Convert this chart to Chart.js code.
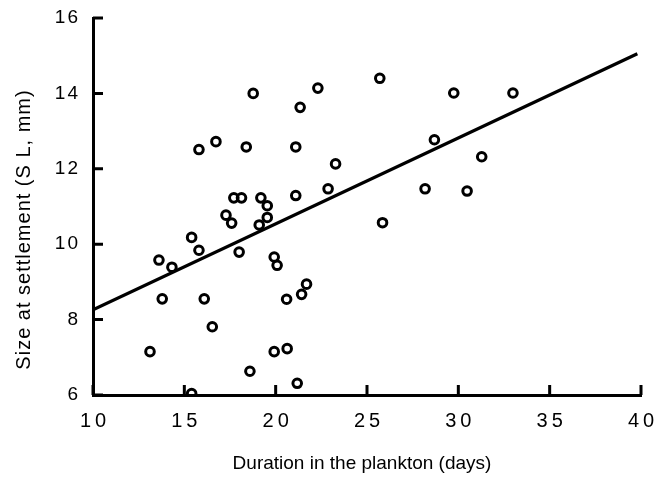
<!DOCTYPE html>
<html>
<head>
<meta charset="utf-8">
<script src="https://cdn.jsdelivr.net/npm/chart.js@4.4.0/dist/chart.umd.min.js"></script>
<style>
  html, body { margin: 0; padding: 0; background: #fff; }
  #wrap { width: 655px; height: 478px; }
</style>
</head>
<body>
<div id="wrap"><canvas id="settleChart"></canvas></div>
<script>
// Each fish: days spent in the plankton and size at settlement (SL, mm)
var duration = [18.77, 22.31, 21.34, 15.80, 16.73, 18.39, 21.10, 23.28, 22.87,
                17.71, 18.13, 19.19, 21.10, 19.54, 17.28, 17.59, 19.54, 19.10,
                15.40, 15.80, 18.00, 13.61, 14.32, 19.92, 20.08, 13.79, 16.09,
                20.60, 21.42, 21.69, 16.53, 13.12, 19.92, 20.63, 18.59, 21.18,
                15.40, 25.70, 29.75, 32.99, 28.69, 31.28, 28.18, 30.48, 25.85];
var sizeSL   = [14.00, 14.14, 13.63, 12.51, 12.72, 12.58, 12.58, 12.13, 11.47,
                11.23, 11.23, 11.23, 11.29, 11.02, 10.77, 10.56, 10.71, 10.51,
                10.18,  9.84,  9.79,  9.58,  9.39,  9.66,  9.44,  8.55,  8.55,
                 8.54,  8.67,  8.94,  7.81,  7.15,  7.15,  7.23,  6.63,  6.31,
                 6.04, 14.40, 14.01, 14.01, 12.77, 12.32, 11.47, 11.41, 10.57];

// Regression line, two end points
var fitDuration = [10, 39.8];
var fitSize = [8.26, 15.05];

// Axis ticks
var xTicks = [10, 15, 20, 25, 30, 35, 40];
var yTicks = [6, 8, 10, 12, 14, 16];

var fontName = "'Liberation Sans', Arial, Helvetica, sans-serif";

function toPoints(xs, ys) {
    var pts = [];
    for (var i = 0; i < xs.length; i++) {
        pts.push({ x: xs[i], y: ys[i] });
    }
    return pts;
}

// run one of the scale's draw steps with some extra canvas settings
function wrapDraw(scale, method, spacing, dx, dy) {
    var base = scale[method];
    scale[method] = function (area) {
        var ctx = this.ctx;
        ctx.save();
        ctx.letterSpacing = spacing;
        ctx.translate(dx, dy);
        base.call(this, area);
        ctx.restore();
    };
}

var figureLook = {
    id: 'figureLook',
    afterLayout: function (chart) {
        var xs = chart.scales.x;
        var ys = chart.scales.y;
        if (!xs.wrapped) {
            wrapDraw(xs, 'drawLabels', '4px', 2, 0);
            wrapDraw(xs, 'drawTitle', '0px', -5, 0);
            wrapDraw(ys, 'drawLabels', '2px', 2, 0);
            wrapDraw(ys, 'drawTitle', '1px', 0, 23);
            xs.wrapped = true;
        }
    },
    // short tick marks drawn inside the plot, like the printed figure
    afterDraw: function (chart) {
        var ctx = chart.ctx;
        var xs = chart.scales.x;
        var ys = chart.scales.y;
        var len = 10;
        ctx.save();
        ctx.strokeStyle = '#000';
        ctx.lineWidth = 3;
        ctx.beginPath();
        xTicks.forEach(function (v) {
            var px = xs.getPixelForValue(v);
            ctx.moveTo(px, ys.bottom);
            ctx.lineTo(px, ys.bottom - len);
        });
        yTicks.forEach(function (v) {
            var py = ys.getPixelForValue(v);
            ctx.moveTo(xs.left, py);
            ctx.lineTo(xs.left + len, py);
        });
        ctx.stroke();
        ctx.restore();
    }
};

new Chart("settleChart", {
    type: "scatter",
    data: {
        datasets: [{
            label: "Fish",
            data: toPoints(duration, sizeSL),
            pointRadius: 4.3,
            pointHoverRadius: 4.3,
            pointBorderWidth: 3,
            pointBorderColor: "#000",
            pointBackgroundColor: "rgba(255,255,255,0)",
            showLine: false
        }, {
            label: "Fit",
            data: toPoints(fitDuration, fitSize),
            showLine: true,
            borderColor: "#000",
            borderWidth: 3.2,
            pointRadius: 0,
            fill: false
        }]
    },
    options: {
        responsive: true,
        maintainAspectRatio: false,
        animation: false,
        events: [],
        layout: {
            padding: { top: 18, right: 14, left: 0, bottom: 0 }
        },
        plugins: {
            legend: { display: false },
            tooltip: { enabled: false }
        },
        scales: {
            x: {
                type: "linear",
                min: 10,
                max: 40,
                afterBuildTicks: function (scale) {
                    scale.ticks = xTicks.map(function (v) { return { value: v }; });
                },
                afterFit: function (scale) {
                    scale.height = 83;
                    scale.paddingLeft = 0;
                    scale.paddingRight = 0;
                },
                grid: { display: false, drawTicks: false },
                border: { display: true, color: "#000", width: 3 },
                ticks: {
                    color: "#000",
                    padding: 14,
                    maxRotation: 0,
                    font: { family: fontName, size: 20 }
                },
                title: {
                    display: true,
                    text: "Duration in the plankton (days)",
                    color: "#000",
                    padding: { top: 0, bottom: 3 },
                    font: { family: fontName, size: 19 }
                }
            },
            y: {
                type: "linear",
                min: 6,
                max: 16,
                afterBuildTicks: function (scale) {
                    scale.ticks = yTicks.map(function (v) { return { value: v }; });
                },
                afterFit: function (scale) {
                    scale.width = 93;
                    scale.paddingTop = 0;
                    scale.paddingBottom = 0;
                },
                grid: { display: false, drawTicks: false },
                border: { display: true, color: "#000", width: 3 },
                ticks: {
                    color: "#000",
                    padding: 15,
                    font: { family: fontName, size: 19 }
                },
                title: {
                    display: true,
                    text: "Size at settlement (S L, mm)",
                    color: "#000",
                    padding: { top: 12, bottom: 0 },
                    font: { family: fontName, size: 20 }
                }
            }
        }
    },
    plugins: [figureLook]
});
</script>
</body>
</html>
